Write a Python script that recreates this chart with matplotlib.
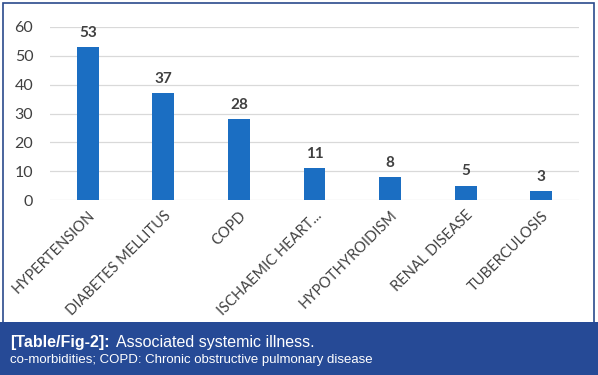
import matplotlib
matplotlib.use("Agg")
import matplotlib.pyplot as plt
from matplotlib.patches import Rectangle

# === Data ===
illnesses = ["HYPERTENSION", "DIABETES MELLITUS", "COPD", "ISCHAEMIC HEART...",
             "HYPOTHYROIDISM", "RENAL DISEASE", "TUBERCULOSIS"]
counts = [53, 37, 28, 11, 8, 5, 3]
y_ticks = [0, 10, 20, 30, 40, 50, 60]

W, H = 598, 375
fig = plt.figure(figsize=(W / 100, H / 100), dpi=100)
fig.patch.set_facecolor("white")

# === Bar chart ===
ax = fig.add_axes([50 / W, 175 / H, 529 / W, 173 / H])
x = range(len(illnesses))
ax.bar(x, counts, width=0.29, color="#1b6ec2", zorder=3)
for xi, v in zip(x, counts):
    ax.text(xi, v + 2.5, str(v), ha="center", va="bottom", fontsize=11,
            color="#404040", family="Lato", fontweight="bold")

ax.set_xlim(-0.5, len(illnesses) - 0.5)
ax.set_ylim(0, 60)
ax.set_yticks(y_ticks)
ax.yaxis.grid(True, color="#d9d9d9", linewidth=0.9, zorder=0)
ax.tick_params(axis="both", length=0)
ax.tick_params(axis="y", labelsize=11.5, labelcolor="#404040", pad=12)
for lbl in ax.get_yticklabels():
    lbl.set_family("Lato")
ax.set_xticks(list(x))
ax.set_xticklabels(illnesses, rotation=45, ha="right", rotation_mode="anchor",
                   fontsize=10.5, color="#404040", family="Lato")
ax.tick_params(axis="x", pad=6)
for s in ax.spines.values():
    s.set_visible(False)
ax.set_facecolor("none")

# === Border and caption box ===
fig.add_artist(Rectangle((2.5 / W, 52 / H), 591 / W, 320 / H, transform=fig.transFigure,
                         fill=False, edgecolor="#2a4a8c", linewidth=1.2))
fig.add_artist(Rectangle((0, 0), 1, 53 / H, transform=fig.transFigure,
                         facecolor="#264a96", edgecolor="none"))
t1 = fig.text(10 / W, 1 - 342 / H, "[Table/Fig-2]:", color="white", fontsize=11.5,
              fontweight="bold", family="Liberation Sans", va="center")
fig.canvas.draw()
bb = t1.get_window_extent()
fig.text((bb.x1 + 6) / W, 1 - 342 / H, "Associated systemic illness.", color="white",
         fontsize=11.5, family="Liberation Sans", va="center")
fig.text(10 / W, 1 - 360 / H, "co-morbidities; COPD: Chronic obstructive pulmonary disease",
         color="white", fontsize=9.5, family="Liberation Sans", va="center")

fig.savefig("out.png", dpi=100)
